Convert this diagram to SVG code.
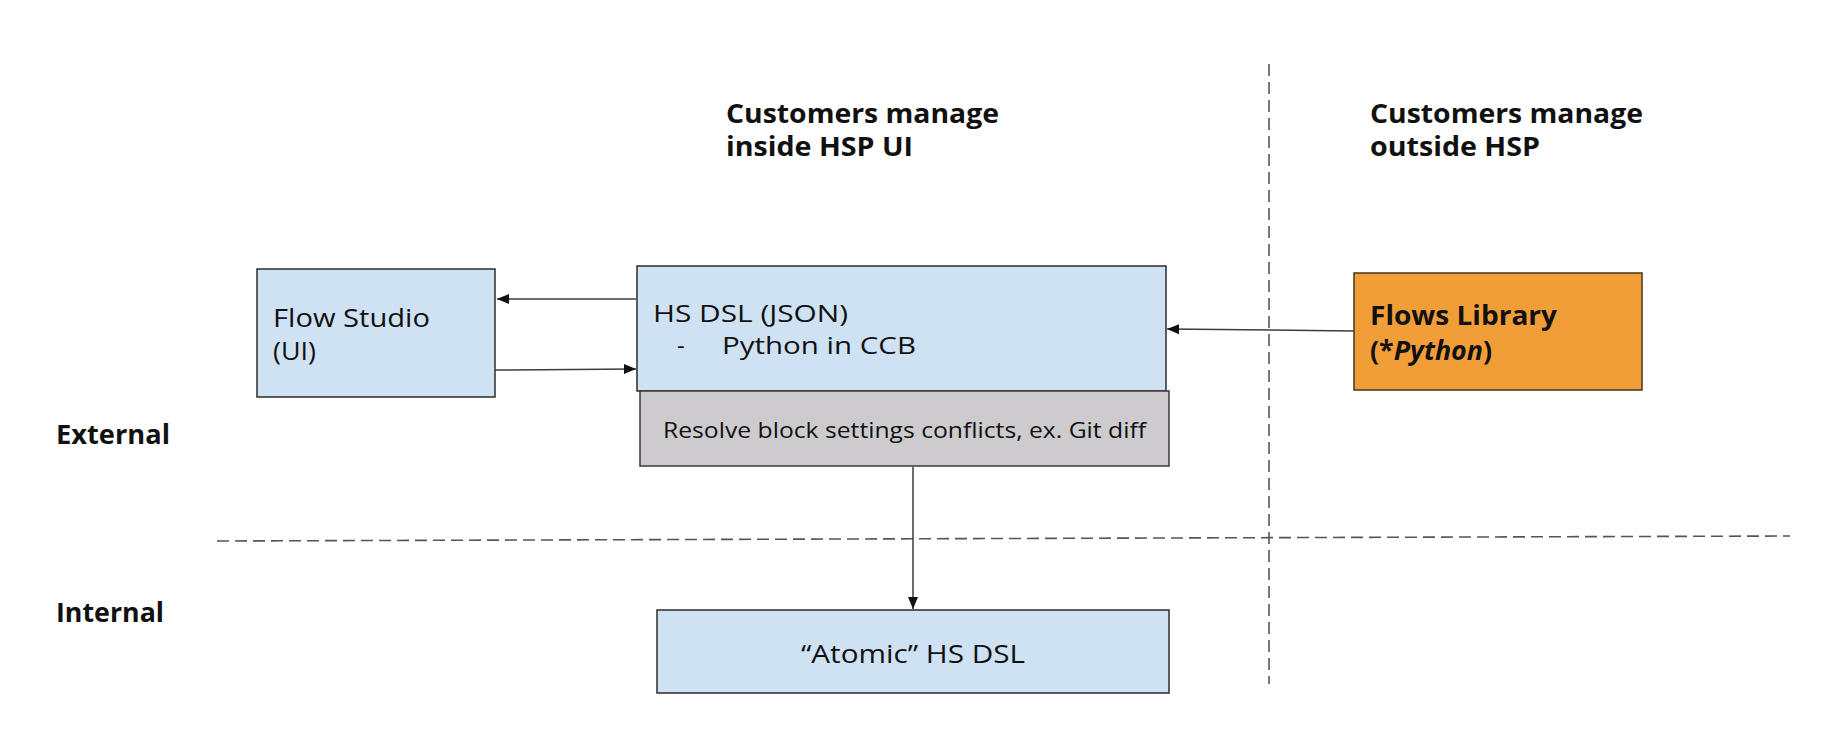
<svg xmlns="http://www.w3.org/2000/svg" width="1834" height="756" viewBox="0 0 1834 756">
  <style>
    .bg { fill: #ffffff; }
    .blue { fill: #cfe2f3; stroke: #2b2b2b; stroke-width: 1.5; }
    .gray { fill: #cdcbce; stroke: #3a3a3a; stroke-width: 1.5; }
    .orange { fill: #f29e38; stroke: #4a3418; stroke-width: 1.5; }
    .t { font-family: "Open Sans", "Liberation Sans", sans-serif; fill: #111111; }
    .reg { font-size: 26px; font-weight: 400; }
    .reg2 { font-size: 24px; font-weight: 400; }
    .small { font-size: 21px; font-weight: 400; }
    .bold { font-size: 26px; font-weight: 700; }
    .conn { stroke: #3c3c3c; stroke-width: 1.5; fill: none; }
    .dash { stroke: #555555; stroke-width: 1.6; fill: none; stroke-dasharray: 12 6; }
  </style>
  <defs>
    <marker id="arrow" markerUnits="userSpaceOnUse" markerWidth="14" markerHeight="12" refX="12" refY="6" orient="auto">
      <path d="M0,1 L12,6 L0,11 Z" fill="#111111"/>
    </marker>
  </defs>
  <rect class="bg" x="0" y="0" width="1834" height="756"/>

  <g id="dividers">
    <line class="dash" x1="1269" y1="64" x2="1269" y2="684"/>
    <line class="dash" x1="217" y1="541" x2="1790" y2="536"/>
  </g>

  <g id="labels">
    <text class="t bold"><tspan x="726" y="123" textLength="273" lengthAdjust="spacingAndGlyphs">Customers manage</tspan><tspan x="726" y="156" textLength="187" lengthAdjust="spacingAndGlyphs">inside HSP UI</tspan></text>
    <text class="t bold"><tspan x="1370" y="123" textLength="273" lengthAdjust="spacingAndGlyphs">Customers manage</tspan><tspan x="1370" y="156" textLength="170" lengthAdjust="spacingAndGlyphs">outside HSP</tspan></text>
    <text class="t bold" x="56" y="444" textLength="114" lengthAdjust="spacingAndGlyphs">External</text>
    <text class="t bold" x="56" y="622" textLength="108" lengthAdjust="spacingAndGlyphs">Internal</text>
  </g>

  <g id="flow-studio">
    <rect class="blue" x="257" y="269" width="238" height="128"/>
    <text class="t reg"><tspan x="273" y="327" textLength="157" lengthAdjust="spacingAndGlyphs">Flow Studio</tspan><tspan x="273" y="360" textLength="43" lengthAdjust="spacingAndGlyphs">(UI)</tspan></text>
  </g>

  <g id="hs-dsl">
    <rect class="blue" x="637" y="266" width="529" height="125"/>
    <text class="t reg2"><tspan x="653" y="322" textLength="195" lengthAdjust="spacingAndGlyphs">HS DSL (JSON)</tspan><tspan x="677" y="354">-</tspan><tspan x="722" y="354" textLength="194" lengthAdjust="spacingAndGlyphs">Python in CCB</tspan></text>
  </g>

  <g id="resolve">
    <rect class="gray" x="640" y="391" width="529" height="75"/>
    <text class="t small" x="663" y="438" textLength="483" lengthAdjust="spacingAndGlyphs">Resolve block settings conflicts, ex. Git diff</text>
  </g>

  <g id="flows-library">
    <rect class="orange" x="1354" y="273" width="288" height="117"/>
    <text class="t bold"><tspan x="1370" y="325" textLength="187" lengthAdjust="spacingAndGlyphs">Flows Library</tspan><tspan x="1370" y="360" textLength="122" lengthAdjust="spacingAndGlyphs">(*<tspan font-style="italic">Python</tspan>)</tspan></text>
  </g>

  <g id="atomic-hs-dsl">
    <rect class="blue" x="657" y="610" width="512" height="83"/>
    <text class="t reg" x="801" y="663" textLength="224" lengthAdjust="spacingAndGlyphs">“Atomic” HS DSL</text>
  </g>

  <g id="connectors">
    <line class="conn" x1="636" y1="299" x2="497" y2="299" marker-end="url(#arrow)"/>
    <line class="conn" x1="495" y1="370" x2="636" y2="369" marker-end="url(#arrow)"/>
    <line class="conn" x1="1354" y1="331" x2="1167" y2="329" marker-end="url(#arrow)"/>
    <line class="conn" x1="913" y1="467" x2="913" y2="609" marker-end="url(#arrow)"/>
  </g>
</svg>
